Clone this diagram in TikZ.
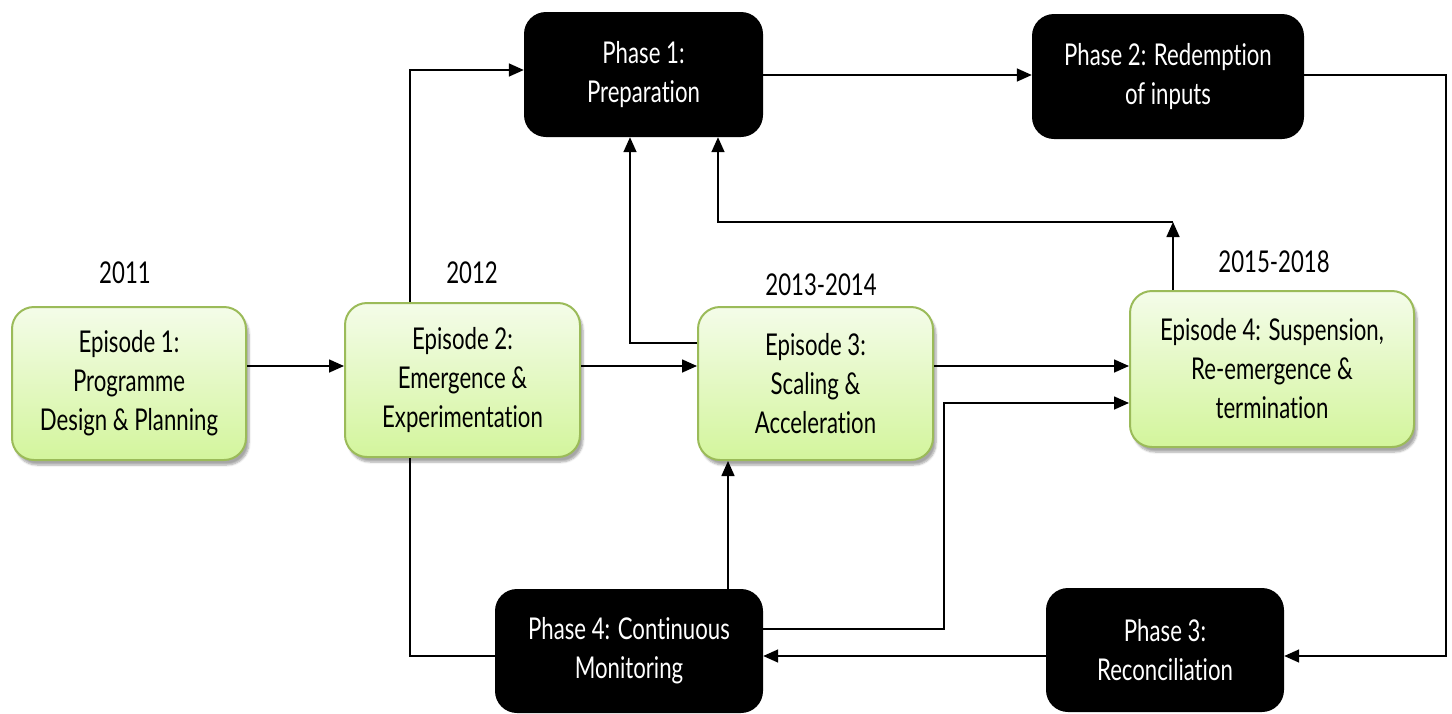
\documentclass[tikz,border=0pt]{standalone}
\usepackage{fontspec}
\setmainfont[FakeStretch=0.74, Ligatures=NoCommon]{Lato}
\usetikzlibrary{arrows.meta,shadows.blur}
\definecolor{epiborder}{HTML}{9BBB59}
\definecolor{epitop}{HTML}{F4FCE9}
\definecolor{epibottom}{HTML}{D3F59C}
\tikzset{
  episode/.style={draw=epiborder, line width=2pt, rounded corners=22pt,
    top color=epitop, bottom color=epibottom, align=center,
    blur shadow={shadow xshift=3pt, shadow yshift=-5pt, shadow blur steps=6, shadow opacity=35},
    font=\fontsize{30}{39}\selectfont},
  phase/.style={fill=black, rounded corners=22pt, text=white, align=center,
    font=\fontsize{30}{39}\selectfont},
  year/.style={font=\fontsize{30}{34}\selectfont},
  conn/.style={line width=1.6pt},
  arr/.style={conn, -{Triangle[length=15pt,width=13pt]}},
}
\begin{document}
\begin{tikzpicture}[x=1pt,y=-1pt]
\useasboundingbox (0,0) rectangle (1452,713);
% episodes
\node[episode, minimum width=234pt, minimum height=153pt] (ep1) at (129,383.5) {Episode 1:\\Programme\\Design \& Planning};
\node[episode, minimum width=235pt, minimum height=154pt] (ep2) at (462.5,380) {Episode 2:\\Emergence \&\\Experimentation};
\node[episode, minimum width=235pt, minimum height=153pt] (ep3) at (815.5,383.5) {Episode 3:\\Scaling \&\\Acceleration};
\node[episode, minimum width=284pt, minimum height=156pt] (ep4) at (1272,369) {Episode 4: Suspension,\\Re-emergence \&\\termination};
% phases
\node[phase, minimum width=239pt, minimum height=125pt] (ph1) at (643.5,74.5) {Phase 1:\\Preparation};
\node[phase, minimum width=272pt, minimum height=125pt] (ph2) at (1168,76.5) {Phase 2: Redemption\\of inputs};
\node[phase, minimum width=238pt, minimum height=124pt] (ph3) at (1165,650) {Phase 3:\\Reconciliation};
\node[phase, minimum width=268pt, minimum height=124pt] (ph4) at (629,651) {Phase 4: Continuous\\Monitoring};
% years
\node[year] (y1) at (125,273) {2011};
\node[year] (y2) at (472,273) {2012};
\node[year] (y3) at (821,285) {2013-2014};
\node[year] (y4) at (1274,262) {2015-2018};
% routing helpers
\coordinate (rowA) at (0,366);
\coordinate (row70) at (0,70);
\coordinate (row75) at (0,75);
\coordinate (row656) at (0,656);
\coordinate (row629) at (0,629);
\coordinate (row403) at (0,403);
\coordinate (row343) at (0,343);
\coordinate (col410) at (410,0);
\coordinate (col630) at (630,0);
\coordinate (col718) at (718,0);
\coordinate (col728) at (728,0);
\coordinate (col944) at (944,0);
\coordinate (col1173) at (1173,0);
\coordinate (colR) at (1446,0);
\coordinate (jn) at (1173,222);
% connectors
\draw[arr] (ep1.east |- rowA) -- (ep2.west |- rowA);
\draw[arr] (ep2.east |- rowA) -- (ep3.west |- rowA);
\draw[arr] (ep3.east |- rowA) -- (ep4.west |- rowA);
\draw[arr] (ep2.north -| col410) -- (col410 |- row70) -- (ph1.west |- row70);
\draw[arr] (ph1.east |- row75) -- (ph2.west |- row75);
\draw[arr] (ph2.east |- row75) -- (colR |- row75) -- (colR |- row656) -- (ph3.east |- row656);
\draw[arr] (ph3.west |- row656) -- (ph4.east |- row656);
\draw[conn] (ph4.west |- row656) -- (col410 |- row656) -- (ep2.south -| col410);
\draw[arr] (ph4.north -| col728) -- (ep3.south -| col728);
\draw[arr] (ph4.east |- row629) -- (col944 |- row629) -- (col944 |- row403) -- (ep4.west |- row403);
\draw[arr] (ep3.west |- row343) -- (col630 |- row343) -- (ph1.south -| col630);
\draw[arr] (ep4.north -| col1173) -- (jn);
\draw[arr] (jn) -- (col718 |- jn) -- (ph1.south -| col718);
\end{tikzpicture}
\end{document}
